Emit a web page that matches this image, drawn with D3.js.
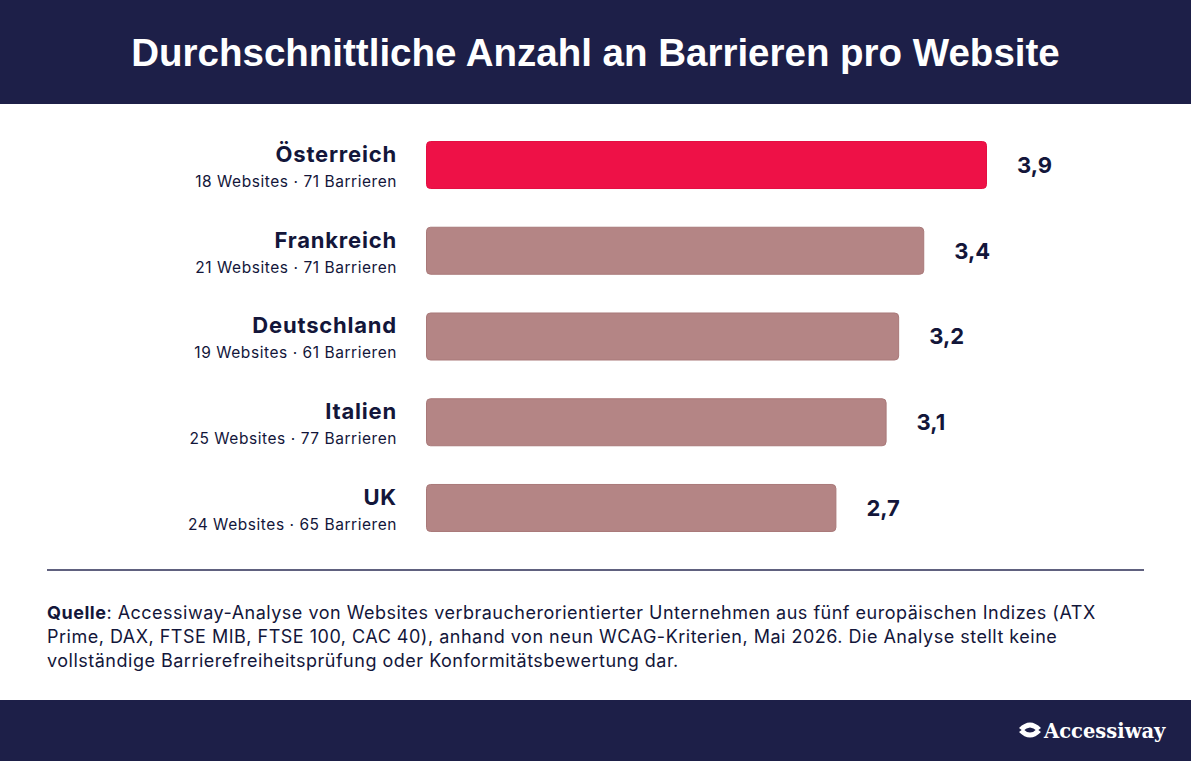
<!DOCTYPE html>
<html>
<head>
<meta charset="utf-8">
<script src="https://d3js.org/d3.v7.min.js"></script>
<style>
  body { margin: 0; background: #fff; }
  svg text { font-family: Inter, "Noto Sans", sans-serif; }
</style>
</head>
<body>
<script>
// Werte aus der Grafik
var countries = ["Österreich", "Frankreich", "Deutschland", "Italien", "UK"];
var websites = [18, 21, 19, 25, 24];
var barriers = [71, 71, 61, 77, 65];
var averages = [3.9, 3.4, 3.2, 3.1, 2.7];
var highlight = "Österreich";

var W = 1191, H = 761;
var navy = "#1d1f48", ink = "#13163a";

var svg = d3.select("body").append("svg")
  .attr("width", W).attr("height", H);

// Kopfzeile
svg.append("rect").attr("x", 0).attr("y", 0).attr("width", W).attr("height", 104).attr("fill", navy);
svg.append("text")
  .attr("x", W / 2).attr("y", 66)
  .attr("text-anchor", "middle")
  .attr("fill", "#fff")
  .style("font-family", "'Liberation Sans', Arial, sans-serif")
  .style("font-weight", "bold")
  .style("font-size", "38.5px")
  .text("Durchschnittliche Anzahl an Barrieren pro Website");

// Skalen
var y = d3.scaleBand().domain(countries).range([141, 532]).paddingInner(0.44).paddingOuter(0);
var x = d3.scaleLinear().domain([-0.57, 3.9]).range([426, 987]);

var rows = svg.selectAll("g.row")
  .data(countries)
  .enter().append("g")
  .attr("class", "row")
  .attr("transform", function(d) { return "translate(0," + y(d) + ")"; });

rows.append("rect")
  .attr("x", x(-0.57) + 0.5)
  .attr("y", 0.5)
  .attr("width", function(d, i) { return x(averages[i]) - x(-0.57) - 1; })
  .attr("height", y.bandwidth() - 1)
  .attr("rx", 4)
  .attr("fill", function(d) { return d === highlight ? "#ee1147" : "#b48585"; })
  .attr("stroke", function(d) { return d === highlight ? "#e30f42" : "#a97979"; })
  .attr("stroke-width", 1);

rows.append("text")
  .attr("x", function(d, i) { return x(averages[i]) + 30; })
  .attr("y", y.bandwidth() / 2 + 8)
  .attr("fill", ink)
  .style("font-weight", "700")
  .style("font-size", "22px")
  .text(function(d, i) { return d3.format(".1f")(averages[i]).replace(".", ","); });

rows.append("text")
  .attr("x", 397).attr("y", 21)
  .attr("text-anchor", "end")
  .attr("fill", ink)
  .style("font-weight", "700")
  .style("font-size", "22px")
  .style("letter-spacing", "0.8px")
  .text(function(d) { return d; });

rows.append("text")
  .attr("x", 397).attr("y", 46)
  .attr("text-anchor", "end")
  .attr("fill", ink)
  .style("font-size", "15.5px")
  .style("letter-spacing", "0.55px")
  .text(function(d, i) { return websites[i] + " Websites · " + barriers[i] + " Barrieren"; });

// Trennlinie
svg.append("line")
  .attr("x1", 47).attr("x2", 1144).attr("y1", 570).attr("y2", 570)
  .attr("stroke", "#2b2d55").attr("stroke-width", 1.5);

// Quelle
var srcLines = [
  ["Quelle", ": Accessiway-Analyse von Websites verbraucherorientierter Unternehmen aus fünf europäischen Indizes (ATX"],
  ["", "Prime, DAX, FTSE MIB, FTSE 100, CAC 40), anhand von neun WCAG-Kriterien, Mai 2026. Die Analyse stellt keine"],
  ["", "vollständige Barrierefreiheitsprüfung oder Konformitätsbewertung dar."]
];
var src = svg.append("text")
  .attr("fill", ink)
  .style("font-size", "18px")
  .style("letter-spacing", "0.5px");
srcLines.forEach(function(l, i) {
  var t = src.append("tspan").attr("x", 47).attr("y", 619 + i * 24);
  if (l[0]) { t.style("font-weight", "700").text(l[0]); src.append("tspan").text(l[1]); }
  else t.text(l[1]);
});

// Fußzeile
svg.append("rect").attr("x", 0).attr("y", 700).attr("width", W).attr("height", H - 700).attr("fill", navy);
var logo = svg.append("g").attr("transform", "translate(1030,730)");
logo.append("path")
  .attr("d", "M-11,-2 Q0,-13 11,-2 L7,1 Q0,-6 -7,1 Z")
  .attr("fill", "#fff");
logo.append("path")
  .attr("d", "M-11,2 Q0,13 11,2 L7,-1 Q0,6 -7,-1 Z")
  .attr("fill", "#fff");
svg.append("text")
  .attr("x", 1044).attr("y", 738)
  .attr("fill", "#fff")
  .style("font-family", "'DejaVu Serif', 'Liberation Serif', serif")
  .style("font-weight", "bold")
  .style("font-size", "19.5px")
  .text("Accessiway");
</script>
</body>
</html>
